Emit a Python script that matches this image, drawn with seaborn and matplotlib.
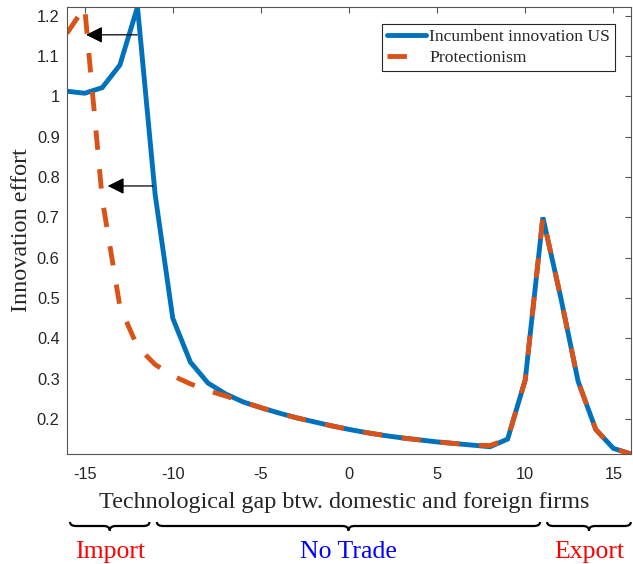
import numpy as np
import pandas as pd
import matplotlib
matplotlib.use("Agg")
import matplotlib.pyplot as plt
import seaborn as sns
from matplotlib.path import Path
from matplotlib.patches import PathPatch
from matplotlib.transforms import blended_transform_factory

# ---------------- data ----------------
gap = list(range(-16, 17))
incumbent_us = [1.013, 1.008, 1.022, 1.078, 1.222, 0.757, 0.450, 0.341, 0.289, 0.262,
                0.242, 0.228, 0.215, 0.203, 0.193, 0.183, 0.174, 0.166, 0.159, 0.153,
                0.148, 0.143, 0.139, 0.135, 0.131, 0.150, 0.297, 0.700, 0.504, 0.293,
                0.174, 0.127, 0.113]
protectionism = [1.157, 1.222, 0.745, 0.479, 0.379, 0.335, 0.307, 0.287, 0.270, 0.257,
                 0.242, 0.228, 0.215, 0.203, 0.193, 0.183, 0.174, 0.166, 0.159, 0.153,
                 0.148, 0.143, 0.139, 0.135, 0.134, 0.150, 0.297, 0.700, 0.504, 0.293,
                 0.174, 0.127, 0.113]
series_names = ["Incumbent innovation US", "Protectionism"]
x_ticks = [-15, -10, -5, 0, 5, 10, 15]
y_ticks = [0.2, 0.3, 0.4, 0.5, 0.6, 0.7, 0.8, 0.9, 1.0, 1.1, 1.2]
y_ticklabels = ["0.2", "0.3", "0.4", "0.5", "0.6", "0.7", "0.8", "0.9", "1", "1.1", "1.2"]
x_label = "Technological gap btw. domestic and foreign firms"
y_label = "Innovation effort"
# arrows: (tail, head)
arrows = [((-12.02, 1.153), (-14.92, 1.153)), ((-11.13, 0.778), (-13.69, 0.778))]
# regimes: label, x-start, x-end, color
regimes = [("Import", -15.83, -11.32, "#ff0000"),
           ("No Trade", -10.9, 10.84, "#0000ff"),
           ("Export", 11.24, 15.99, "#ff0000")]

df = pd.DataFrame({"gap": gap, "inc": incumbent_us, "prot": protectionism})

# ---------------- style ----------------
sns.set_style("white")
plt.rcParams["font.family"] = ["Liberation Sans", "DejaVu Sans"]
plt.rcParams["axes.unicode_minus"] = False

W, H = 633, 564
fig = plt.figure(figsize=(W / 100, H / 100), dpi=100)
ax_l, ax_r, ax_t, ax_b = 67, 631, 7, 454
ax = fig.add_axes([ax_l / W, 1 - ax_b / H, (ax_r - ax_l) / W, (ax_b - ax_t) / H])

blue = "#0072BD"
orange = "#D95319"
lw = 3.5
sns.lineplot(data=df, x="gap", y="inc", ax=ax, color=blue, lw=lw,
             label=series_names[0], solid_joinstyle="miter")
sns.lineplot(data=df, x="gap", y="prot", ax=ax, color=orange, lw=lw,
             ls=(0, (4, 4)), label=series_names[1])

ax.set_xlim(-16, 16)
ax.set_ylim(0.113, 1.222)
ax.set_xticks(x_ticks)
ax.set_xticklabels([str(t) for t in x_ticks])
ax.set_yticks(y_ticks)
ax.set_yticklabels(y_ticklabels)

spine_c = "#555555"
for s in ax.spines.values():
    s.set_color(spine_c)
    s.set_linewidth(0.8)
    s.set_visible(True)
ax.tick_params(axis="both", which="both", direction="in", length=4, width=0.8,
               color=spine_c, top=True, right=True, labelsize=11.8,
               labelcolor="#262626")
ax.tick_params(axis="x", pad=9.3)
ax.tick_params(axis="y", pad=5.3)

serif = ["Liberation Serif", "DejaVu Serif"]
ax.set_xlabel(x_label, family=serif, fontsize=17.4, color="#262626")
ax.set_ylabel(y_label, family=serif, fontsize=17.4, color="#262626")
ax.xaxis.set_label_coords(0.491, -0.084)
ax.yaxis.set_label_coords(-0.062, 0.5)

leg = ax.legend(loc="upper right", bbox_to_anchor=(0.972, 0.962), frameon=True,
                fancybox=False, edgecolor="#262626", framealpha=1,
                prop={"family": serif, "size": 12.6}, handlelength=2.2,
                handletextpad=0.2, borderpad=0.3, labelspacing=0.25,
                borderaxespad=0)
leg.get_frame().set_linewidth(0.8)

for tail, head in arrows:
    ax.annotate("", xy=head, xytext=tail,
                arrowprops=dict(arrowstyle="-|>,head_length=0.5,head_width=0.25",
                                color="black", lw=0.9, mutation_scale=20,
                                shrinkA=0, shrinkB=0))

# braces and regime labels below the axis
tr = blended_transform_factory(ax.transData, fig.transFigure)
def fy(p):
    return 1 - p / H
y_top, y_mid, y_bot = fy(522), fy(526), fy(530.5)
r = 0.35
for name, x0, x1, col in regimes:
    xc = (x0 + x1) / 2
    verts = [(x0, y_top), (x0, y_mid), (x0 + r, y_mid),
             (xc - r, y_mid), (xc, y_mid), (xc, y_bot),
             (xc, y_mid), (xc + r, y_mid),
             (x1 - r, y_mid), (x1, y_mid), (x1, y_top)]
    codes = [Path.MOVETO, Path.CURVE3, Path.CURVE3,
             Path.LINETO, Path.CURVE3, Path.CURVE3,
             Path.CURVE3, Path.CURVE3,
             Path.LINETO, Path.CURVE3, Path.CURVE3]
    patch = PathPatch(Path(verts, codes), transform=tr, fill=False,
                      edgecolor="black", lw=1.6, clip_on=False)
    fig.add_artist(patch)
    fig.text(0, 0, name, transform=tr, family=serif, fontsize=18.5, color=col,
             ha="center", va="baseline").set_position((xc, fy(558)))

fig.savefig("out.png", dpi=100)
